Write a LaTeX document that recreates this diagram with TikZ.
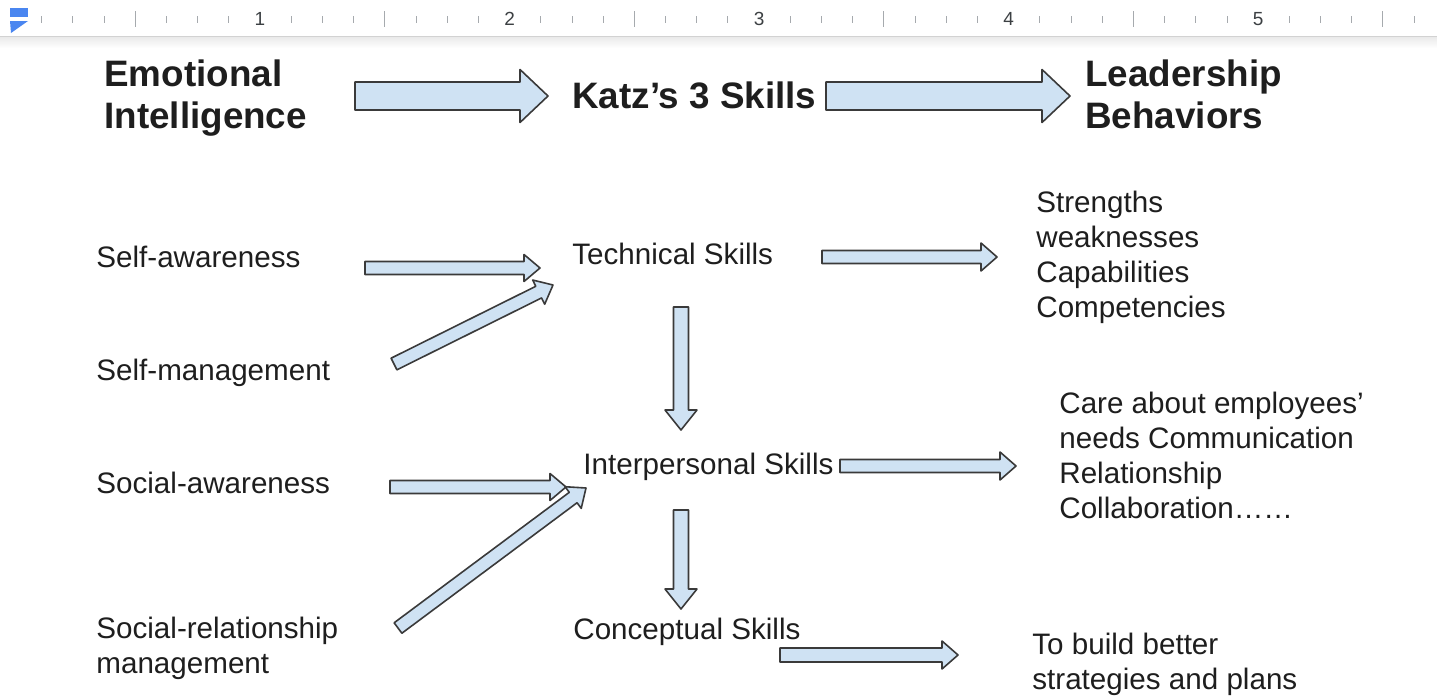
\documentclass[tikz,border=0pt]{standalone}
\usepackage{fontspec}
\setmainfont{Liberation Sans}
\usetikzlibrary{calc}

\definecolor{arrowfill}{HTML}{CFE2F3}
\definecolor{arrowline}{HTML}{3A3A3A}
\definecolor{inkcol}{HTML}{1E1E1E}
\definecolor{rulertick}{HTML}{A6AAAE}
\definecolor{rulernum}{HTML}{3C4043}
\definecolor{rulerblue}{HTML}{4A86F0}

% block arrow: #1 half shaft, #2 half head, #3 head length, #4 tail, #5 tip
\newcommand{\blockarrow}[5]{%
  \coordinate (neck) at ($(#5)!#3!(#4)$);
  \draw[blockfill] ($(#4)!#1!90:(#5)$) -- ($(neck)!#1!90:(#5)$) -- ($(neck)!#2!90:(#5)$) -- (#5)
     -- ($(neck)!#2!-90:(#5)$) -- ($(neck)!#1!-90:(#5)$) -- ($(#4)!#1!-90:(#5)$) -- cycle;}

\begin{document}
\begin{tikzpicture}[x=0.5pt,y=-0.5pt,
   head/.style={font=\fontsize{18.4}{21}\selectfont\bfseries, text=inkcol, inner sep=0pt, align=left, anchor=base west},
   item/.style={font=\fontsize{14.8}{17.5}\selectfont, text=inkcol, inner sep=0pt, align=left, anchor=base west},
   rulerlabel/.style={font=\fontsize{9.5}{10}\selectfont, text=rulernum, inner sep=0pt},
   blockfill/.style={fill=arrowfill, draw=arrowline, line width=0.8pt, line join=round}]
   \useasboundingbox (0,0) rectangle (1437,696);
   \fill[white] (0,0) rectangle (1437,696);
   % ruler
   \shade[top color=gray!18, bottom color=white] (0,36) rectangle (1437,48);
   \draw[gray!35] (0,36)--(1437,36);
   \foreach \i in {1,...,45}{
      \pgfmathtruncatemacro\r{mod(\i,8)}
      \pgfmathtruncatemacro\h{mod(\i,4)}
      \pgfmathtruncatemacro\n{\i/8}
      \ifnum\r=0 \node[rulerlabel] (inch\n) at (10.5+\i*31.19,19) {\n};
      \else\ifnum\h=0 \draw[rulertick] (10.5+\i*31.19,11)--++(0,16);
      \else \draw[rulertick] (10.5+\i*31.19,16)--++(0,7);
      \fi\fi}
   \fill[rulerblue] (10,8) rectangle (28,17);
   \fill[rulerblue] (10,21) -- (28,21) -- (11,33) -- cycle;
   % headings (anchor is the baseline of the last line)
   \node[head] (emo) at (104,128) {Emotional\\Intelligence};
   \node[head] (katz) at (572,108) {Katz’s 3 Skills};
   \node[head] (lead) at (1085,128) {Leadership\\Behaviors};
   % left column
   \node[item] (selfaw) at (96,267) {Self-awareness};
   \node[item] (selfman) at (96,380) {Self-management};
   \node[item] (socaw) at (96,493) {Social-awareness};
   \node[item] (socrel) at (96,673) {Social-relationship\\management};
   % middle column
   \node[item] (tech) at (572,264) {Technical Skills};
   \node[item] (inter) at (583,474) {Interpersonal Skills};
   \node[item] (concept) at (573,639) {Conceptual Skills};
   % right column
   \node[item] (techout) at (1036,317) {Strengths\\weaknesses\\Capabilities\\Competencies};
   \node[item] (interout) at (1059,518) {Care about employees’\\needs Communication\\Relationship\\Collaboration……};
   \node[item] (conout) at (1032,689) {To build better\\strategies and plans};
   % arrow ends
   \coordinate (emoA) at (355,96);   \coordinate (katzA) at (548,96);
   \coordinate (katzB) at (826,96);  \coordinate (leadA) at (1070,96);
   \coordinate (selfawA) at (365,268);  \coordinate (techA) at (540,268);
   \coordinate (selfmanA) at (394,364); \coordinate (techB) at (553,285);
   \coordinate (socawA) at (390,487);   \coordinate (interA) at (566,487);
   \coordinate (socrelA) at (398,628);  \coordinate (interB) at (586,488);
   \coordinate (techC) at (681,307);    \coordinate (interC) at (681,430);
   \coordinate (interD) at (681,510);   \coordinate (conceptA) at (681,609);
   \coordinate (techD) at (822,257);    \coordinate (techoutA) at (997,257);
   \coordinate (interE) at (840,466);   \coordinate (interoutA) at (1016,466);
   \coordinate (conceptB) at (780,655); \coordinate (conoutA) at (958,655);
   % arrows
   \blockarrow{7pt}{13.25pt}{14pt}{emoA}{katzA}
   \blockarrow{7pt}{13.25pt}{14pt}{katzB}{leadA}
   \blockarrow{3.25pt}{6.75pt}{8pt}{selfawA}{techA}
   \blockarrow{3.25pt}{6.75pt}{8pt}{selfmanA}{techB}
   \blockarrow{3.25pt}{6.75pt}{8pt}{socawA}{interA}
   \blockarrow{3.25pt}{6.75pt}{8pt}{socrelA}{interB}
   \blockarrow{3.75pt}{8pt}{10pt}{techC}{interC}
   \blockarrow{3.75pt}{8pt}{10pt}{interD}{conceptA}
   \blockarrow{3.25pt}{7pt}{8pt}{techD}{techoutA}
   \blockarrow{3.25pt}{7pt}{8pt}{interE}{interoutA}
   \blockarrow{3.5pt}{7pt}{8pt}{conceptB}{conoutA}
\end{tikzpicture}
\end{document}
